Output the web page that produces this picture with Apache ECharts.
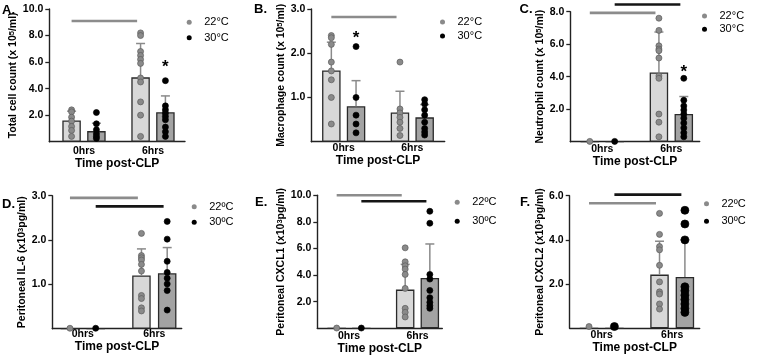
<!DOCTYPE html>
<html>
<head>
<meta charset="utf-8">
<script src="https://cdn.jsdelivr.net/npm/echarts@6/dist/echarts.min.js"></script>
<style>
  html, body { margin: 0; padding: 0; background: #fff; }
  #chart { width: 762px; height: 357px; }
</style>
</head>
<body>
<div id="chart"></div>
<script>
const timePoints = ['0hrs', '6hrs'];
const tempsDeg = ['22°C', '30°C'];
const tempsOrd = ['22ºC', '30ºC'];

// A. total cell count (x10^5/ml)
const totalTicks = [2, 4, 6, 8, 10];
const totalMean22 = [1.6, 4.85];
const totalMean30 = [0.8, 2.22];
const totalSd22 = [0.7, 2.55];
const totalSd30 = [0.59, 1.23];
const totalDots22 = [[2.4, 2.25, 1.85, 1.55, 1.15, 0.85, 0.4], [8.2, 8.0, 6.8, 6.5, 6.2, 5.9, 4.8, 4.5, 3.0, 2.0, 0.4]];
const totalDots30 = [[2.2, 1.35, 0.9, 0.6, 0.4, 0.25], [4.6, 2.7, 2.4, 2.15, 1.9, 1.65, 1.1, 0.75, 0.4]];
const totalSig = [9.1, null];
const totalStars = [null, 5.85];

// B. macrophage count (x10^5/ml)
const macroTicks = [1, 2, 3];
const macroMean22 = [1.61, 0.66];
const macroMean30 = [0.8, 0.55];
const macroSd22 = [0.64, 0.48];
const macroSd30 = [0.58, 0.29];
const macroDots22 = [[2.4, 2.35, 2.2, 1.8, 1.6, 1.4, 1.0, 0.4], [1.8, 0.74, 0.65, 0.55, 0.44, 0.3, 0.14]];
const macroDots30 = [[2.15, 1.0, 0.6, 0.4, 0.2], [0.95, 0.85, 0.72, 0.6, 0.44, 0.3, 0.22, 0.15]];
const macroSig = [2.82, null];
const macroStars = [2.41, null];

// C. neutrophil count (x10^5/ml)
const neutTicks = [2, 4, 6, 8];
const neutMean22 = [0, 4.26];
const neutMean30 = [0, 1.71];
const neutSd22 = [0, 2.49];
const neutSd30 = [0, 1.07];
const neutDots22 = [[0.02], [7.6, 6.85, 5.9, 5.7, 5.6, 5.15, 4.05, 3.9, 1.7, 1.2, 0.3]];
const neutDots30 = [[0.02], [3.9, 2.55, 2.2, 1.95, 1.7, 1.45, 1.15, 0.85, 0.55, 0.3]];
const neutSig = [7.93, 8.44];
const neutStars = [null, 4.47];

// D. peritoneal IL-6 (x10^3 pg/ml)
const il6Ticks = [1, 2, 3];
const il6Mean22 = [0, 1.2];
const il6Mean30 = [0, 1.25];
const il6Sd22 = [0, 0.6];
const il6Sd30 = [0, 0.58];
const il6Dots22 = [[0.01], [2.15, 1.65, 1.6, 1.55, 1.45, 1.3, 0.75, 0.68, 0.47, 0.4]];
const il6Dots30 = [[0.01], [2.42, 2.02, 1.52, 1.27, 1.14, 1.01, 0.86, 0.42]];
const il6Sig = [2.95, 2.76];
const il6Stars = [null, null];

// E. peritoneal CXCL1 (x10^3 pg/ml)
const cxcl1Ticks = [2, 4, 6, 8, 10];
const cxcl1Mean22 = [0, 2.91];
const cxcl1Mean30 = [0, 3.78];
const cxcl1Sd22 = [0, 1.9];
const cxcl1Sd30 = [0, 2.56];
const cxcl1Dots22 = [[0.02], [6.05, 5.0, 4.7, 4.45, 4.05, 3.0, 1.5, 1.2, 0.85]];
const cxcl1Dots30 = [[0.02], [8.8, 7.9, 4.05, 3.7, 2.85, 2.3, 1.95, 1.7, 1.5]];
const cxcl1Sig = [10.0, 9.55];
const cxcl1Stars = [null, null];

// F. peritoneal CXCL2 (x10^3 pg/ml)
const cxcl2Ticks = [2, 4, 6];
const cxcl2Mean22 = [0, 2.43];
const cxcl2Mean30 = [0, 2.32];
const cxcl2Sd22 = [0, 1.51];
const cxcl2Sd30 = [0, 1.68];
const cxcl2Dots22 = [[0.08], [5.2, 4.25, 3.7, 3.55, 2.85, 2.1, 1.65, 1.55, 1.1, 0.87]];
const cxcl2Dots30 = [[0.08], [5.34, 4.72, 4.0, 1.88, 1.7, 1.5, 1.3, 1.1, 0.9, 0.72]];
const cxcl2Sig = [5.66, 6.05];
const cxcl2Stars = [null, null];

const FONT = '"Liberation Sans", Arial, sans-serif';
const barOffset = [-0.18, 0.18];
const barFill = ['#d8d8d8', '#a3a3a3'];
const dotFill = ['#8a8a8a', '#000'];
const dotBorder = ['#5c5c5c', '#000'];
const sigColor = ['#8c8c8c', '#151515'];
const axisColor = '#222';

const panels = [
  { letter: 'A.', yName: 'Total cell count (x 10{s|5}/ml)', ticks: totalTicks, temps: tempsDeg,
    mean: [totalMean22, totalMean30], sd: [totalSd22, totalSd30], dots: [totalDots22, totalDots30],
    sig: totalSig, stars: totalStars,
    grid: { left: 49.3, top: 9, width: 135.7, height: 132.7 }, xMin: -0.503, xMax: 1.464,
    yGap: 25, xMargin: 4, xNameGap: 15, legend: { left: 186.7, top: 16.8, gap: 4.4 },
    title: { left: 2, top: 4 }, dotSize: [6, 6] },
  { letter: 'B.', yName: 'Macrophage count (x 10{s|5}/ml)', ticks: macroTicks, temps: tempsDeg,
    mean: [macroMean22, macroMean30], sd: [macroSd22, macroSd30], dots: [macroDots22, macroDots30],
    sig: macroSig, stars: macroStars,
    grid: { left: 311.3, top: 9, width: 133.4, height: 132.7 }, xMin: -0.472, xMax: 1.472,
    yGap: 22, xMargin: 1, xNameGap: 11, legend: { left: 440, top: 16.5, gap: 3 },
    title: { left: 254, top: 3 }, dotSize: [6, 6] },
  { letter: 'C.', yName: 'Neutrophil count (x 10{s|5}/ml)', ticks: neutTicks, temps: tempsDeg,
    mean: [neutMean22, neutMean30], sd: [neutSd22, neutSd30], dots: [neutDots22, neutDots30],
    sig: neutSig, stars: neutStars,
    grid: { left: 570.3, top: 11.7, width: 129.4, height: 130 }, xMin: -0.462, xMax: 1.41,
    yGap: 23, xMargin: 2, xNameGap: 13, legend: { left: 702, top: 10.5, gap: 2.3 },
    title: { left: 519.5, top: 3 }, dotSize: [6, 6] },
  { letter: 'D.', yName: 'Peritoneal IL-6 (x10{s|3}pg/ml)', ticks: il6Ticks, temps: tempsOrd,
    mean: [il6Mean22, il6Mean30], sd: [il6Sd22, il6Sd30], dots: [il6Dots22, il6Dots30],
    sig: il6Sig, stars: il6Stars,
    grid: { left: 52.3, top: 195.7, width: 129.4, height: 133 }, xMin: -0.427, xMax: 1.383,
    yGap: 23, xMargin: 0, xNameGap: 10.5, legend: { left: 191.7, top: 201.2, gap: 4.6 },
    title: { left: 2, top: 198 }, dotSize: [6, 6] },
  { letter: 'E.', yName: 'Peritoneal CXCL1 (x10{s|3}pg/ml)', ticks: cxcl1Ticks, temps: tempsOrd,
    mean: [cxcl1Mean22, cxcl1Mean30], sd: [cxcl1Sd22, cxcl1Sd30], dots: [cxcl1Dots22, cxcl1Dots30],
    sig: cxcl1Sig, stars: cxcl1Stars,
    grid: { left: 317.3, top: 195.3, width: 125, height: 133 }, xMin: -0.463, xMax: 1.362,
    yGap: 29, xMargin: 2, xNameGap: 13.5, legend: { left: 454.7, top: 196.8, gap: 8 },
    title: { left: 255, top: 196 }, dotSize: [6, 6] },
  { letter: 'F.', yName: 'Peritoneal CXCL2 (x10{s|3}pg/ml)', ticks: cxcl2Ticks, temps: tempsOrd,
    mean: [cxcl2Mean22, cxcl2Mean30], sd: [cxcl2Sd22, cxcl2Sd30], dots: [cxcl2Dots22, cxcl2Dots30],
    sig: cxcl2Sig, stars: cxcl2Stars,
    grid: { left: 569.7, top: 195.7, width: 130, height: 132.6 }, xMin: -0.454, xMax: 1.39,
    yGap: 23, xMargin: 1, xNameGap: 13.5, legend: { left: 704, top: 198.2, gap: 6.6 },
    title: { left: 520, top: 196 }, dotSize: [6, 8] }
];

const option = {
  animation: false,
  textStyle: { fontFamily: FONT },
  title: [], legend: [], grid: [], xAxis: [], yAxis: [], series: []
};

panels.forEach((p, i) => {
  const yMax = p.ticks[p.ticks.length - 1];
  option.title.push({
    text: p.letter, left: p.title.left, top: p.title.top, padding: 0,
    textStyle: { fontSize: 13, fontWeight: 'bold', color: '#000', fontFamily: FONT }
  });
  option.legend.push({
    orient: 'vertical', left: p.legend.left, top: p.legend.top, padding: 0,
    itemGap: p.legend.gap, itemWidth: 20, itemHeight: 5, icon: 'circle',
    selectedMode: false, data: p.temps,
    itemStyle: { borderWidth: 0 },
    textStyle: { fontSize: 11, color: '#000', fontFamily: FONT }
  });
  option.grid.push(Object.assign({ containLabel: false }, p.grid));
  option.xAxis.push({
    type: 'value', gridIndex: i, min: p.xMin, max: p.xMax,
    splitLine: { show: false },
    axisLine: { show: true, onZero: false, lineStyle: { color: axisColor, width: 1.4 } },
    axisTick: { show: false },
    axisLabel: {
      customValues: [0, 1], margin: p.xMargin,
      formatter: v => timePoints[Math.round(v)],
      fontSize: 10.5, fontWeight: 'bold', color: '#000', fontFamily: FONT
    },
    name: 'Time post-CLP', nameLocation: 'middle', nameGap: p.xNameGap,
    nameTextStyle: { fontSize: 12, fontWeight: 'bold', color: '#000', fontFamily: FONT }
  });
  option.yAxis.push({
    type: 'value', gridIndex: i, min: 0, max: yMax,
    splitLine: { show: false },
    axisLine: { show: true, onZero: false, lineStyle: { color: axisColor, width: 1.4 } },
    axisTick: { show: true, length: 4, customValues: p.ticks, lineStyle: { color: axisColor, width: 1.3 } },
    axisLabel: {
      customValues: p.ticks, margin: 6,
      formatter: v => v.toFixed(1),
      fontSize: 10.5, fontWeight: 'bold', color: '#000', fontFamily: FONT
    },
    name: p.yName, nameLocation: 'middle', nameGap: p.yGap,
    nameTextStyle: {
      fontSize: 10.5, fontWeight: 'bold', color: '#000', fontFamily: FONT,
      rich: { s: { fontSize: 7.5, fontWeight: 'bold', verticalAlign: 'top', color: '#000', fontFamily: FONT } }
    }
  });

  [0, 1].forEach(t => {
    const off = barOffset[t];
    // bars
    option.series.push({
      type: 'bar', name: 'bar ' + p.letter + t, xAxisIndex: i, yAxisIndex: i,
      barWidth: 18.5, barGap: '-100%', z: 2, silent: true,
      data: p.mean[t].map((m, g) => [g + off, m]),
      itemStyle: { color: barFill[t], borderColor: '#2a2a2a', borderWidth: 1.3 }
    });
    // error bars (mean + SD)
    option.series.push({
      type: 'custom', name: 'err ' + p.letter + t, xAxisIndex: i, yAxisIndex: i, z: 3, silent: true,
      data: p.mean[t].map((m, g) => [g + off, m, p.sd[t][g]]).filter(d => d[2] > 0),
      renderItem: (params, api) => {
        const x = api.value(0), m = api.value(1), s = api.value(2);
        const base = api.coord([x, m]);
        const top = api.coord([x, m + s]);
        const st = { stroke: '#8a8a8a', lineWidth: 1.5 };
        return {
          type: 'group', children: [
            { type: 'line', shape: { x1: base[0], y1: base[1], x2: top[0], y2: top[1] }, style: st },
            { type: 'line', shape: { x1: top[0] - 4.5, y1: top[1], x2: top[0] + 4.5, y2: top[1] }, style: st }
          ]
        };
      }
    });
    // individual animals
    const pts = [];
    p.dots[t].forEach((vals, g) => vals.forEach(v => pts.push([g + off, v])));
    option.series.push({
      type: 'scatter', name: p.temps[t], xAxisIndex: i, yAxisIndex: i, z: 4, silent: true,
      symbol: 'circle', symbolSize: p.dotSize[t], data: pts,
      itemStyle: { color: dotFill[t], borderColor: dotBorder[t], borderWidth: 0.7, opacity: 1 }
    });
    // significance bar between time points
    if (p.sig[t] != null) {
      option.series.push({
        type: 'custom', name: 'sig ' + p.letter + t, xAxisIndex: i, yAxisIndex: i, z: 3, silent: true,
        clip: false,
        data: [[0 + off, 1 + off - 0.05, p.sig[t]]],
        renderItem: (params, api) => {
          const a = api.coord([api.value(0), api.value(2)]);
          const b = api.coord([api.value(1), api.value(2)]);
          return { type: 'line', shape: { x1: a[0], y1: a[1], x2: b[0], y2: b[1] },
                   style: { stroke: sigColor[t], lineWidth: 2.6 } };
        }
      });
    }
  });

  // asterisks over the 30 °C bars
  const stars = p.stars.map((v, g) => [g + barOffset[1], v]).filter(d => d[1] != null);
  if (stars.length) {
    option.series.push({
      type: 'custom', name: 'star ' + p.letter, xAxisIndex: i, yAxisIndex: i, z: 5, silent: true,
      clip: false, data: stars,
      renderItem: (params, api) => {
        const c = api.coord([api.value(0), api.value(1)]);
        return { type: 'text', x: c[0], y: c[1] + 3,
                 style: { text: '*', fontSize: 17, fontWeight: 'bold', fontFamily: FONT,
                          fill: '#000', align: 'center', verticalAlign: 'middle' } };
      }
    });
  }
});

const chart = echarts.init(document.getElementById('chart'));
chart.setOption(option);
</script>
</body>
</html>
